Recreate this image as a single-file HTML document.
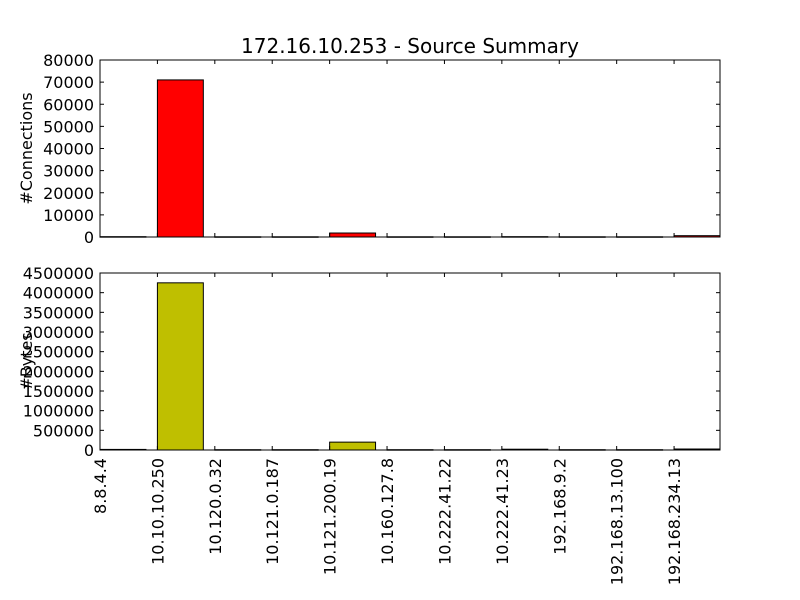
<!DOCTYPE html>
<html><head><meta charset="utf-8"><style>
body{margin:0;background:#fff}
svg{display:block;font-family:"DejaVu Sans","Liberation Sans",sans-serif}
</style></head><body>
<svg id="chart" width="800" height="600" viewBox="0 0 800 600">
<rect width="800" height="600" fill="#fff"/>
<text x="410" y="53" font-size="20" text-anchor="middle">172.16.10.253 - Source Summary</text>
</svg>
<script>
const categories=["8.8.4.4","10.10.10.250","10.120.0.32","10.121.0.187","10.121.200.19","10.160.127.8","10.222.41.22","10.222.41.23","192.168.9.2","192.168.13.100","192.168.234.13"];
const connections=[150,71000,100,100,1800,100,100,150,100,100,600];
const bytes=[15000,4250000,8000,8000,200000,8000,8000,20000,8000,8000,25000];
const connTicks=[0,10000,20000,30000,40000,50000,60000,70000,80000];
const byteTicks=[0,500000,1000000,1500000,2000000,2500000,3000000,3500000,4000000,4500000];
const svg=document.getElementById('chart');
const NS='http://www.w3.org/2000/svg';
function mk(t,a,p){const e=document.createElementNS(NS,t);for(const k in a)e.setAttribute(k,a[k]);(p||svg).appendChild(e);return e;}
const L=100,R=720,xmax=10.8;
function xs(v){return L+(R-L)*v/xmax;}
function panel(name,top,bot,vals,ticks,ymax,color,ylabel){
  const g=mk('g',{});
  
  
  const ys=v=>bot-(bot-top)*v/ymax;
  vals.forEach((v,i)=>{
    const y=ys(v);
    const r=mk('rect',{x:xs(i),y:y,width:xs(0.8)-xs(0),height:Math.max(bot-y,0.5),fill:color,stroke:'#000','stroke-width':1},g);
    
    
  });
  mk('rect',{x:L,y:top,width:R-L,height:bot-top,fill:'none',stroke:'#000','stroke-width':1},g);
  ticks.forEach(t=>{
    const y=ys(t);
    mk('line',{x1:L,x2:L+4,y1:y,y2:y,stroke:'#000'},g);
    mk('line',{x1:R,x2:R-4,y1:y,y2:y,stroke:'#000'},g);
    const tx=mk('text',{x:L-6,y:y+6,'font-size':16,'text-anchor':'end'},g);
    tx.textContent=t;
    
    
  });
  categories.forEach((c,i)=>{
    const x=xs(i);
    mk('line',{x1:x,x2:x,y1:bot,y2:bot-4,stroke:'#000'},g);
    mk('line',{x1:x,x2:x,y1:top,y2:top+4,stroke:'#000'},g);
  });
  const yl=mk('text',{x:0,y:0,'font-size':16,'text-anchor':'middle',transform:`translate(32,${(top+bot)/2}) rotate(-90)`},g);
  yl.textContent=ylabel;
  
  
}
panel('connections',60,237,connections,connTicks,80000,'#ff0000','#Connections');
panel('bytes',273,450,bytes,byteTicks,4500000,'#bfbf00','#Bytes');
categories.forEach((c,i)=>{
  const x=xs(i);
  const t=mk('text',{x:0,y:0,'font-size':16,'text-anchor':'end',transform:`translate(${x+6},${458}) rotate(-90)`});
  t.textContent=c;
  
  
});
</script>
</body></html>
